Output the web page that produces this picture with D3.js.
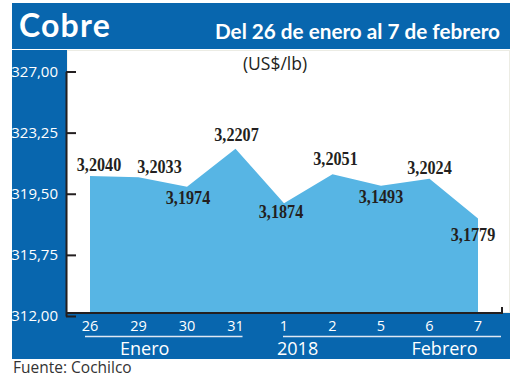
<!DOCTYPE html>
<html><head><meta charset="utf-8">
<script src="https://cdn.jsdelivr.net/npm/d3@7"></script>
<style>
html,body{margin:0;padding:0;background:#fff;}
svg{display:block;}
</style></head>
<body>
<svg id="chart" width="520" height="390"></svg>
<script>
// ---- data ----
const categories = ["26","29","30","31","1","2","5","6","7"];
const values = [320.40, 320.33, 319.74, 322.07, 318.74, 320.51, 319.80, 320.24, 317.79];
const valueLabels = ["3,2040","3,2033","3,1974","3,2207","3,1874","3,2051","3,1493","3,2024","3,1779"];
const yTicks = [312, 315.75, 319.5, 323.25, 327];
const groups = ["Enero","2018","Febrero"];
const title = "Cobre";
const subtitle = "Del 26 de enero al 7 de febrero";
const unit = "(US$/lb)";
const source = "Fuente: Cochilco";

// ---- layout ----
const blue = "#0866ae", areaCol = "#57b5e4", dark = "#231f20";
const svg = d3.select("#chart");
const x = d3.scalePoint().domain(categories).range([90, 478]);
const y = d3.scaleLinear().domain([312, 327]).range([313, 68.5]);

// plot frame (faint)
svg.append("rect").attr("x",67).attr("y",50.5).attr("width",442.5).attr("height",262)
  .attr("fill","#fff").attr("stroke","#ecece4").attr("stroke-width",1);

// title bar
svg.append("rect").attr("x",12).attr("y",3).attr("width",498).attr("height",46).attr("fill",blue);
svg.append("text").attr("x",19).attr("y",37).text(title)
  .attr("fill","#fff").attr("font-family","Lato, 'Open Sans', sans-serif")
  .attr("font-weight","bold").attr("font-size",32).attr("letter-spacing",1.2);
svg.append("text").attr("x",500).attr("y",39).attr("text-anchor","end").text(subtitle)
  .attr("fill","#fff").attr("font-family","Lato, 'Open Sans', sans-serif")
  .attr("font-weight","bold").attr("font-size",21)
  .attr("textLength",285).attr("lengthAdjust","spacingAndGlyphs");

// left column and bottom band
svg.append("rect").attr("x",12).attr("y",50).attr("width",55).attr("height",309).attr("fill",blue);
svg.append("rect").attr("x",12).attr("y",313).attr("width",498).attr("height",46).attr("fill",blue);

// unit label
svg.append("text").attr("x",275).attr("y",70).attr("text-anchor","middle").text(unit)
  .attr("fill",dark).attr("font-family","'Open Sans', sans-serif").attr("font-size",17.5);

// area
const area = d3.area().x((d,i)=>x(categories[i])).y0(y(312)).y1(d=>y(d)).curve(d3.curveLinear);
svg.append("path").datum(values).attr("d",area).attr("fill",areaCol);

// x axis line + right tick
svg.append("path")
  .attr("d", `M${x.range()[0]-24},${y(312)}H${x.range()[1]+24}V${y(312)-6}`)
  .attr("fill","none").attr("stroke",dark).attr("stroke-width",2);

// y axis
const fmt = v => v.toFixed(2).replace(".", ",");
const yAxis = d3.axisLeft(y).tickValues(yTicks).tickFormat(fmt)
  .tickSizeInner(-10).tickSizeOuter(0).tickPadding(8);
const gy = svg.append("g").attr("transform","translate(66,3)").call(yAxis);
gy.select(".domain").attr("stroke",dark).attr("stroke-width",2);
gy.selectAll(".tick line").attr("stroke",dark).attr("stroke-width",2);
gy.selectAll(".tick text").attr("fill","#fff").attr("font-size",15)
  .attr("font-family","'Open Sans', sans-serif").attr("x",-8);

// x tick labels
svg.append("g").selectAll("text").data(categories).join("text")
  .attr("x",d=>x(d)).attr("y",331).attr("text-anchor","middle").text(d=>d)
  .attr("fill","#fff").attr("font-family","'Open Sans', sans-serif").attr("font-size",14.5);

// group separator lines
svg.append("line").attr("x1",x("26")-5).attr("x2",x("31")+7).attr("y1",336.5).attr("y2",336.5)
  .attr("stroke","#dfe8f3").attr("stroke-width",1.5);
svg.append("line").attr("x1",x("1")-1).attr("x2",x("7")+23).attr("y1",336.5).attr("y2",336.5)
  .attr("stroke","#dfe8f3").attr("stroke-width",1.5);

// group labels
svg.append("text").attr("x",(x("29")+x("30"))/2-18).attr("y",355).attr("text-anchor","middle").text(groups[0])
  .attr("fill","#fff").attr("font-family","'Open Sans', sans-serif").attr("font-size",18);
svg.append("text").attr("x",x("1")-7).attr("y",355).attr("text-anchor","start").text(groups[1])
  .attr("fill","#fff").attr("font-family","'Open Sans', sans-serif").attr("font-size",18);
svg.append("text").attr("x",x("6")+15).attr("y",355).attr("text-anchor","middle").text(groups[2])
  .attr("fill","#fff").attr("font-family","'Open Sans', sans-serif").attr("font-size",18);

// value labels
const labelDx = [9, 21, 1, 1, -3, 3, 0, 0, -5];
const labelDy = [-5, -4, 17, -8, 15, -9, 17, -5, 22];
svg.append("g").selectAll("text").data(valueLabels).join("text")
  .attr("transform",(d,i)=>`translate(${x(categories[i])+labelDx[i]},${y(values[i])+labelDy[i]}) scale(0.85,1)`)
  .attr("text-anchor","middle").text(d=>d)
  .attr("fill",dark).attr("font-family","'Liberation Serif', 'DejaVu Serif', serif")
  .attr("font-weight","bold").attr("font-size",19);

// source
svg.append("text").attr("x",13).attr("y",373).text(source)
  .attr("fill","#333").attr("font-family","'Open Sans', sans-serif").attr("font-size",15.5);
</script>
</body></html>
